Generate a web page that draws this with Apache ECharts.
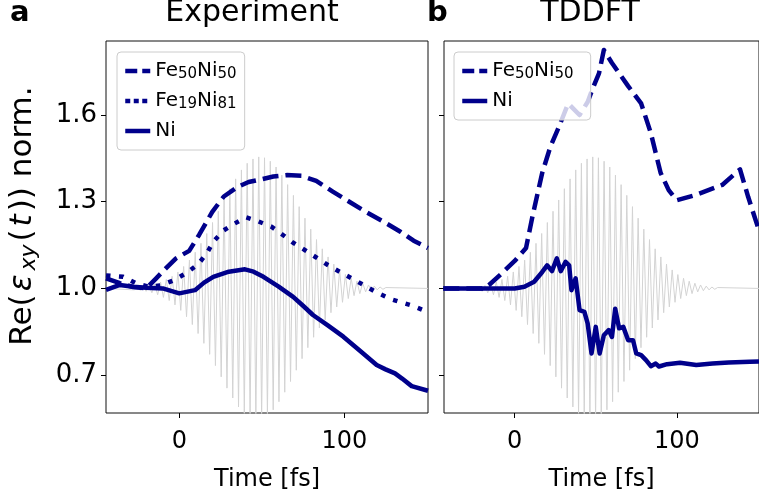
<!DOCTYPE html>
<html><head><meta charset="utf-8">
<script src="https://cdn.jsdelivr.net/npm/echarts@6.0.0/dist/echarts.min.js"></script>
<style>html,body{margin:0;padding:0;background:#fff}#c{width:759px;height:497px}</style>
</head><body><div id="c"></div>
<script>
// ---------------- data ----------------
const xTicks = [0, 100];
const yTicks = [0.7, 1.0, 1.3, 1.6];
const panelTitles = ['Experiment', 'TDDFT'];
const panelLetters = ['a', 'b'];

// Experiment (panel a): [time fs, Re(eps_xy) norm.]
const expFe50Ni50 = [[-44.4,1.035],[-36,1.018],[-28,1.005],[-20,1.0],[-14,1.035],[-8,1.07],[-2,1.104],[6,1.13],[12,1.185],[20,1.265],[27,1.318],[35,1.35],[42,1.368],[50,1.378],[57,1.387],[65,1.392],[74,1.39],[83,1.372],[93,1.335],[103,1.30],[113,1.265],[124,1.23],[134,1.196],[142,1.165],[150.7,1.14]];
const expFe19Ni81 = [[-44.4,1.045],[-34,1.04],[-26,1.017],[-18,1.005],[-11,1.011],[-3,1.029],[4.5,1.054],[11.5,1.084],[16.6,1.121],[20.6,1.161],[26.7,1.20],[32.7,1.222],[40.4,1.246],[47.9,1.232],[56,1.213],[63,1.184],[69,1.158],[76,1.133],[83,1.107],[90,1.081],[97.4,1.057],[104.5,1.035],[112.5,1.009],[119.6,0.986],[128.7,0.962],[141.9,0.939],[150.7,0.918]];
const expNi = [[-44.4,0.995],[-36,1.012],[-28,1.006],[-20,1.002],[-10,1.0],[0,0.983],[9.5,0.994],[15,1.02],[20.6,1.04],[30,1.058],[39.8,1.066],[45,1.058],[51,1.04],[60,1.007],[69,0.971],[75,0.94],[81,0.908],[90,0.872],[99.4,0.833],[110,0.782],[119.6,0.735],[125,0.72],[130.7,0.706],[135,0.688],[140.8,0.662],[150.7,0.646]];

// TDDFT (panel b)
const tdFe50Ni50 = [[-44,1.0],[-20,1.0],[-16,1.011],[-8,1.052],[0,1.095],[7,1.14],[11,1.25],[17,1.40],[22,1.49],[27,1.555],[33,1.64],[40,1.60],[45,1.645],[48,1.69],[52,1.744],[55,1.825],[60,1.78],[70,1.70],[78,1.64],[84,1.537],[90,1.40],[95,1.34],[100,1.305],[112,1.324],[128,1.358],[139,1.412],[144,1.317],[150.7,1.2]];
const tdNi = [[-44,1.0],[-10,1.0],[0,1.0],[6,1.006],[12,1.023],[17,1.057],[20,1.08],[23,1.06],[26,1.104],[28.4,1.06],[31.4,1.092],[33.6,1.08],[35,0.994],[37.6,1.035],[40,0.925],[43,0.919],[45,0.879],[47.4,0.775],[50,0.867],[52.4,0.775],[55,0.838],[58,0.856],[60,0.832],[62,0.93],[64.4,0.862],[67,0.867],[70,0.821],[73,0.821],[75,0.775],[78,0.769],[81,0.752],[84,0.731],[87,0.74],[89,0.73],[94,0.738],[102,0.743],[112,0.735],[122,0.74],[132,0.744],[145,0.746],[150.7,0.747]];

// laser pulse (grey): time of first minimum, period, and per-cycle amplitude read from the envelope
const pulseFirstMin = -27.1;
const pulsePeriod = 3.5;
const pulseAmp = [0.005,0.007,0.010,0.015,0.022,0.031,0.042,0.057,0.076,0.098,0.125,0.156,0.190,0.228,0.267,0.306,0.345,0.379,0.410,0.433,0.448,0.455,0.452,0.440,0.420,0.392,0.359,0.322,0.283,0.243,0.205,0.169,0.137,0.109,0.084,0.064,0.048,0.035,0.025,0.018,0.012,0.008,0.005,0.003];

// ---------------- chart ----------------
const FONT = '"DejaVu Sans", Verdana, sans-serif';
const NAVY = '#00008b';
const X0 = [-44.4, 150.7], X1 = [-43.6, 150.7];
const YR = [0.569, 1.856];

function pulseData(xmin, xmax) {
  const d = [[xmin, 1]];
  pulseAmp.forEach((a, i) => {
    const t = pulseFirstMin + i * pulsePeriod;
    d.push([t, 1 - a]);
    d.push([t + pulsePeriod / 2, 1 + a]);
  });
  d.push([xmax, 1]);
  return d;
}

const legendNames = {
  'Fe50Ni50': 'Fe{s|50}Ni{s|50}',
  'Fe19Ni81': 'Fe{s|19}Ni{s|81}',
  'Ni': 'Ni',
  'TDDFT Fe50Ni50': 'Fe{s|50}Ni{s|50}',
  'TDDFT Ni': 'Ni'
};
const legendDash = { dashed: [12, 5], dotted: [5, 3.5], solid: 'solid' };

const legendText = {
  fontSize: 20, fontFamily: FONT, color: '#000', lineHeight: 22,
  rich: { s: { fontSize: 15, lineHeight: 15, fontFamily: FONT, verticalAlign: 'bottom', color: '#000' } }
};

function xAxis(i, r) {
  return {
    gridIndex: i, type: 'value', min: r[0], max: r[1],
    name: 'Time [fs]', nameLocation: 'middle', nameGap: 55,
    nameTextStyle: { fontSize: 24, fontFamily: FONT, color: '#000' },
    axisLine: { show: false, onZero: false },
    splitLine: { show: false },
    axisTick: { show: true, length: 5, customValues: xTicks, lineStyle: { color: '#000', width: 1 } },
    axisLabel: { customValues: xTicks, fontSize: 24, fontFamily: FONT, color: '#000', margin: 17 }
  };
}
function yAxis(i, labels) {
  return {
    gridIndex: i, type: 'value', min: YR[0], max: YR[1],
    name: labels ? 'Re({i|ε}{s|xy}({i|t})) norm.' : '',
    nameLocation: 'middle', nameGap: 66, nameRotate: 90,
    nameTextStyle: { fontSize: 31, fontFamily: FONT, color: '#000', lineHeight: 34, padding: [0, 0, 0, 22],
      rich: { i: { fontStyle: 'italic', fontSize: 31, fontFamily: FONT, lineHeight: 34, padding: [0, 3, 0, 3] },
              s: { fontStyle: 'italic', fontSize: 22, fontFamily: FONT, lineHeight: 22, verticalAlign: 'bottom', padding: [0, 3, 0, 1] } } },
    axisLine: { show: false, onZero: false },
    splitLine: { show: false },
    axisTick: { show: true, length: 5, customValues: yTicks, lineStyle: { color: '#000', width: 1 } },
    axisLabel: { show: labels, customValues: yTicks, formatter: v => v.toFixed(1), fontSize: 26, fontFamily: FONT, color: '#000', margin: 9 }
  };
}
function lineSeries(name, gi, data, type) {
  return {
    name, type: 'line', xAxisIndex: gi, yAxisIndex: gi, data, symbol: 'none', z: 3,
    lineStyle: { color: NAVY, width: 4.5, type, cap: 'butt', join: 'round' },
    itemStyle: { color: NAVY }
  };
}
function pulseSeries(gi, r) {
  return {
    name: 'pulse' + gi, type: 'line', xAxisIndex: gi, yAxisIndex: gi, data: pulseData(r[0], r[1]),
    symbol: 'none', z: 1, silent: true, lineStyle: { color: '#d3d3d3', width: 1 }
  };
}
function legend(left, top, items, padRight) {
  return {
    data: items.map(([name, style]) => ({ name, lineStyle: { type: legendDash[style], width: 4.5, color: NAVY, cap: 'butt' } })),
    orient: 'vertical', left, top,
    backgroundColor: 'rgba(255,255,255,0.8)', borderColor: '#cccccc', borderWidth: 1, borderRadius: 4,
    padding: [8, padRight, 8, 6], itemGap: 8, itemWidth: 25, itemHeight: 14, itemTextGap: 14,
    itemStyle: { opacity: 0 },
    lineStyle: { width: 4.5 },
    textStyle: legendText, formatter: n => legendNames[n], selectedMode: false
  };
}

const chart = echarts.init(document.getElementById('c'), null, { renderer: 'canvas' });
chart.setOption({
  animation: false,
  backgroundColor: '#fff',
  grid: [
    { left: 106, top: 41, width: 322, height: 372, show: true, borderColor: '#111', borderWidth: 1, backgroundColor: 'transparent' },
    { left: 444, top: 41, width: 324, height: 372, show: true, borderColor: '#111', borderWidth: 1, backgroundColor: 'transparent' }
  ],
  xAxis: [xAxis(0, X0), xAxis(1, X1)],
  yAxis: [yAxis(0, true), yAxis(1, false)],
  legend: [
    legend(117, 52, [['Fe50Ni50', 'dashed'], ['Fe19Ni81', 'dotted'], ['Ni', 'solid']], 8),
    legend(454, 52, [['TDDFT Fe50Ni50', 'dashed'], ['TDDFT Ni', 'solid']], 17)
  ],
  graphic: [
    { type: 'text', x: 252, y: 13, style: { text: panelTitles[0], font: '30px ' + FONT, fill: '#000', textAlign: 'center', textVerticalAlign: 'middle' } },
    { type: 'text', x: 590, y: 13, style: { text: panelTitles[1], font: '30px ' + FONT, fill: '#000', textAlign: 'center', textVerticalAlign: 'middle' } },
    { type: 'text', x: 10, y: 13, style: { text: panelLetters[0], font: 'bold 29px ' + FONT, fill: '#000', textAlign: 'left', textVerticalAlign: 'middle' } },
    { type: 'text', x: 427, y: 13, style: { text: panelLetters[1], font: 'bold 29px ' + FONT, fill: '#000', textAlign: 'left', textVerticalAlign: 'middle' } }
  ],
  series: [
    pulseSeries(0, X0),
    lineSeries('Fe50Ni50', 0, expFe50Ni50, [16, 7]),
    lineSeries('Fe19Ni81', 0, expFe19Ni81, [4.5, 8.5]),
    lineSeries('Ni', 0, expNi, 'solid'),
    pulseSeries(1, X1),
    lineSeries('TDDFT Fe50Ni50', 1, tdFe50Ni50, [16, 7]),
    lineSeries('TDDFT Ni', 1, tdNi, 'solid')
  ]
});
</script>
</body></html>
